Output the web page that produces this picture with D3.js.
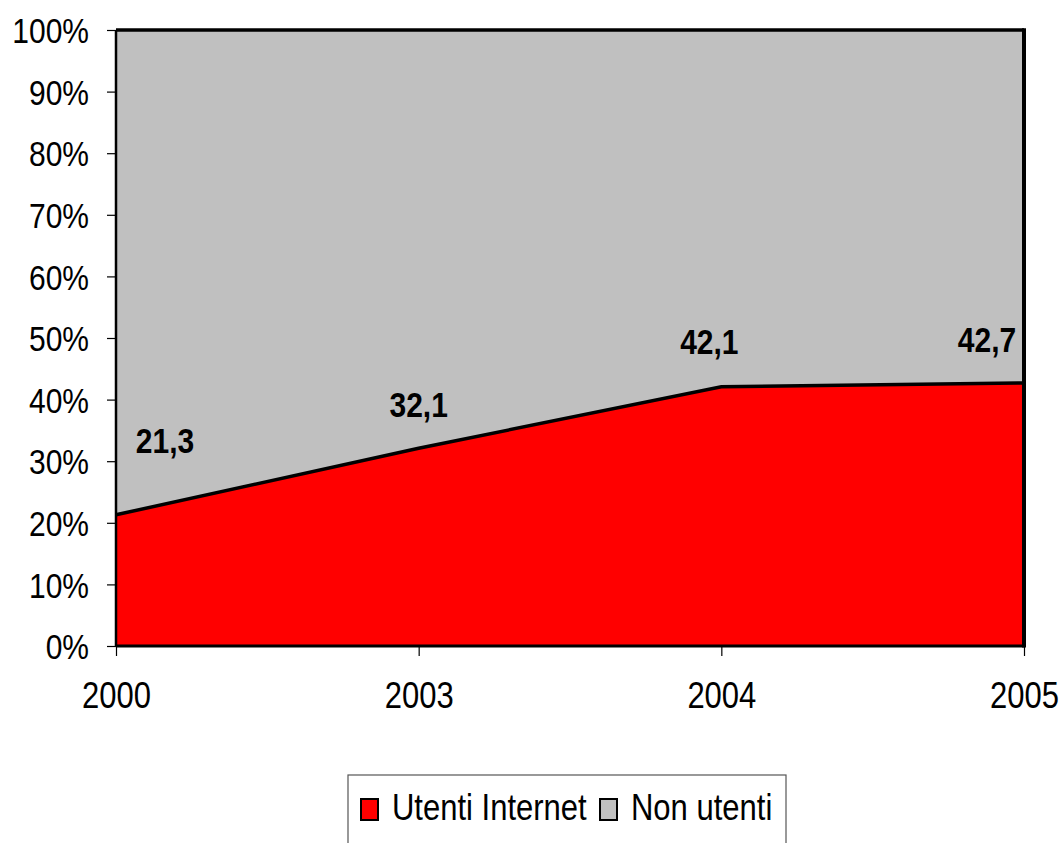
<!DOCTYPE html>
<html><head><meta charset="utf-8">
<script src="https://cdn.jsdelivr.net/npm/d3@7"></script>
<style>
html,body{margin:0;padding:0;background:#fff;}
svg{display:block;}
text{font-family:"Liberation Sans",Arial,sans-serif;}
</style></head>
<body><svg id="c" width="1063" height="843"></svg>
<script>
const years = ["2000","2003","2004","2005"];
const utenti = [21.3, 32.1, 42.1, 42.7];
const nonUtenti = [78.7, 67.9, 57.9, 57.3];
const valueLabels = ["21,3","32,1","42,1","42,7"];
const yTicks = [0,10,20,30,40,50,60,70,80,90,100];
const seriesNames = ["Utenti Internet","Non utenti"];
const seriesColors = ["#ff0000","#c0c0c0"];
// label layout offsets (dx, dy from the point)
const labelDx = [49, 0, -12, -37];
const labelDy = [-62, -31, -33, -31];

const STRETCH = 1.17;
const svg = d3.select("#c");
const L=116, R=1024, T=30, B=646;
const x = d3.scalePoint().domain(years).range([L,R]);
const y = d3.scaleLinear().domain([0,100]).range([B,T]);

const rows = years.map((yr,i)=>({year:yr, u:utenti[i], n:nonUtenti[i]}));
const stack = d3.stack().keys(["u","n"])(rows);

const area = d3.area().x((d,i)=>x(years[i])).y0(d=>y(d[0])).y1(d=>y(d[1]));
svg.selectAll("path.layer").data(stack).join("path")
  .attr("class","layer")
  .attr("d", area)
  .attr("fill",(d,i)=>seriesColors[i]);

// boundary line between series
const line = d3.line().x((d,i)=>x(years[i])).y(d=>y(d));
svg.append("path").attr("d", line(utenti)).attr("fill","none").attr("stroke","#000").attr("stroke-width",3.5);
// plot border
svg.append("line").attr("x1",L).attr("x2",R).attr("y1",y(100)).attr("y2",y(100)).attr("stroke","#000").attr("stroke-width",3.5);
svg.append("line").attr("x1",R).attr("x2",R).attr("y1",y(100)-1.7).attr("y2",B+1.5).attr("stroke","#000").attr("stroke-width",4);
svg.append("line").attr("x1",L).attr("x2",R).attr("y1",B).attr("y2",B).attr("stroke","#000").attr("stroke-width",3);
svg.append("line").attr("x1",L).attr("x2",L).attr("y1",y(100)).attr("y2",B).attr("stroke","#000").attr("stroke-width",2.5);

function stretchAt(sel, fy){
  sel.attr("transform", function(){ const yy = fy(this); return `translate(0,${yy}) scale(1,${STRETCH}) translate(0,${-yy})`; });
}

// y axis
const ya = svg.append("g").attr("transform",`translate(${L},0)`)
  .call(d3.axisLeft(y).tickValues(yTicks).tickSize(9).tickPadding(18).tickFormat(d=>d+"%"));
ya.select(".domain").remove();
ya.selectAll(".tick line").attr("stroke","#000").attr("stroke-width",1.2);
ya.selectAll(".tick text").attr("font-size",30).attr("fill","#000").attr("font-family","'Liberation Sans',Arial,sans-serif").attr("dy","0.36em")
  .attr("transform",`scale(1,${STRETCH})`);

// x axis
const xa = svg.append("g").attr("transform",`translate(0,${B})`)
  .call(d3.axisBottom(x).tickSize(10).tickPadding(28));
xa.select(".domain").remove();
xa.selectAll(".tick line").attr("stroke","#000").attr("stroke-width",1.2);
xa.selectAll(".tick text").attr("font-size",31).attr("fill","#000").attr("font-family","'Liberation Sans',Arial,sans-serif");
stretchAt(xa.selectAll(".tick text"), ()=>50);

// data labels
const vl = svg.selectAll("text.vl").data(utenti).join("text")
  .attr("class","vl")
  .attr("x",(d,i)=>x(years[i])+labelDx[i])
  .attr("y",(d,i)=>y(d)+labelDy[i])
  .attr("text-anchor","middle")
  .attr("font-size",30).attr("font-weight","bold").attr("fill","#000")
  .text((d,i)=>valueLabels[i]);
stretchAt(vl, function(el){ return +el.getAttribute("y"); });

// legend
const lg = svg.append("g");
lg.append("rect").attr("x",348).attr("y",775).attr("width",438).attr("height",90)
  .attr("fill","#fff").attr("stroke","#555").attr("stroke-width",1.2);
const itemX = [361, 600];
seriesNames.forEach((nm,i)=>{
  lg.append("rect").attr("x",itemX[i]).attr("y",799).attr("width",17).attr("height",21)
    .attr("fill",seriesColors[i]).attr("stroke","#000").attr("stroke-width",2);
  const t = lg.append("text").attr("x",itemX[i]+31).attr("y",820).attr("font-size",31).attr("fill","#000").text(nm);
  t.attr("transform",`translate(0,820) scale(1,1.2) translate(0,-820)`);
});
</script></body></html>
